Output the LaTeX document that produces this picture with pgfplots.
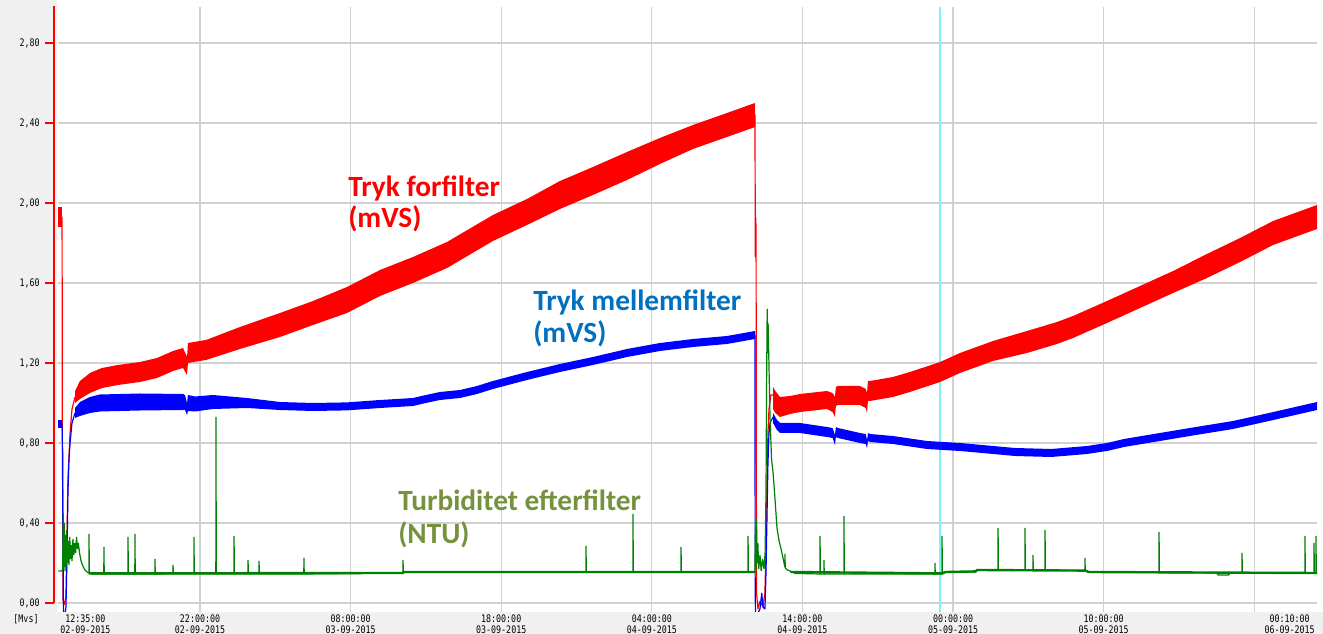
\documentclass[border=0pt]{standalone}
\usepackage{pgfplots}
\pgfplotsset{compat=1.18}
\usepackage{fontspec}
\setmainfont{DejaVu Sans}
\newfontfamily\tickfont[FakeStretch=0.8]{DejaVu Sans Mono}
\newfontfamily\annfont{Carlito}
\definecolor{gridgray}{RGB}{210,210,210}
\definecolor{bggray}{RGB}{240,240,240}
\definecolor{serred}{RGB}{255,0,0}
\definecolor{serblue}{RGB}{0,0,255}
\definecolor{sergreen}{RGB}{0,128,0}
\definecolor{anblue}{RGB}{0,112,192}
\definecolor{anolive}{RGB}{118,146,60}
\definecolor{cursorcyan}{RGB}{128,240,250}
\newcommand{\tf}{\tickfont\fontsize{7.8}{8}\selectfont}
\begin{document}
\begin{tikzpicture}
\useasboundingbox (0pt,0pt) rectangle (992.25pt,475.5pt);
\fill[bggray] (0pt,0pt) rectangle (992.25pt,475.5pt);
\fill[white] (43.1pt,16.5pt) rectangle (992.25pt,475.5pt);
\begin{axis}[
  at={(43.65pt,16.5pt)}, anchor=south west,
  scale only axis, width=944.1pt, height=453.75pt,
  xmin=12.583, xmax=96.167, ymin=-0.045, ymax=2.98,
  axis line style={draw=none}, tick style={draw=none},
  xtick={22,32,42,52,62,72,82,92},
  xticklabels={{22:00:00\\02-09-2015},{08:00:00\\03-09-2015},{18:00:00\\03-09-2015},{04:00:00\\04-09-2015},{14:00:00\\04-09-2015},{00:00:00\\05-09-2015},{10:00:00\\05-09-2015},{}},
  ytick={0,0.4,0.8,1.2,1.6,2.0,2.4,2.8},
  yticklabels={{0,00},{0,40},{0,80},{1,20},{1,60},{2,00},{2,40},{2,80}},
  grid=major, major grid style={gridgray, line width=0.9pt},
  xticklabel style={font=\tf, align=center, inner sep=0pt, anchor=north, yshift=-2pt},
  yticklabel style={font=\tf, inner sep=0pt, anchor=east, xshift=-13.65pt},
  clip=true,
]
% cursor
\addplot[cursorcyan, line width=1.6pt] coordinates {(71.14,-0.045)(71.14,2.98)};
% red: Tryk forfilter (band drawn as upper edge, then lower edge back)
\addplot[serred, line width=0.9pt, line join=bevel] coordinates {(12.84,1.93)(12.86,0.78)(12.88,0.75)(12.90,0.02)(12.97,-0.01)(13.10,0.03)(13.17,0.35)(13.23,0.62)(13.37,0.85)(13.50,0.97)(13.70,1.03)};
\addplot[serred, line width=0.9pt, line join=bevel] coordinates {(58.85,2.44)(58.87,1.73)(58.89,1.93)(58.92,1.88)(58.95,0.05)(59.05,-0.03)(59.18,0.01)(59.38,-0.02)(59.51,0.05)(59.58,0.28)(59.65,0.60)(59.71,0.85)(59.78,0.97)(59.90,1.04)(60.05,1.04)};
\addplot[fill=serred, draw=none] coordinates {(12.60,1.98)(12.84,1.98)(12.84,1.88)(12.60,1.88)};
\addplot[fill=serred, draw=none] coordinates {
 (13.70,1.06)(14.03,1.11)(14.69,1.15)(15.49,1.175)(16.55,1.19)(18.01,1.205)(19.14,1.225)(20.21,1.26)(20.87,1.275)(21.14,1.23)(21.20,1.30)(22.4,1.315)(24.65,1.38)(27.31,1.45)(29.50,1.51)(31.76,1.58)(33.95,1.665)(36.14,1.73)(38.40,1.805)(41.45,1.94)(43.71,2.02)(45.90,2.11)(48.09,2.18)(50.35,2.255)(52.54,2.325)(54.73,2.39)(56.99,2.45)(58.85,2.50)
 (58.85,2.38)(56.99,2.33)(54.73,2.27)(52.54,2.195)(50.35,2.115)(48.09,2.04)(45.90,1.97)(43.71,1.89)(41.45,1.81)(38.40,1.675)(36.14,1.60)(33.95,1.535)(31.76,1.45)(29.50,1.39)(27.31,1.33)(24.65,1.27)(22.4,1.215)(21.20,1.20)(21.14,1.14)(20.87,1.175)(20.21,1.16)(19.14,1.125)(18.01,1.105)(16.55,1.09)(15.49,1.075)(14.69,1.05)(14.03,1.02)(13.70,1.00)};
\addplot[fill=serred, draw=none] coordinates {
 (60.05,1.08)(60.20,1.06)(60.51,1.03)(61.18,1.035)(61.84,1.045)(63.63,1.06)(64.0,1.05)(64.16,1.03)(64.22,1.08)(64.36,1.085)(65.82,1.085)(66.2,1.07)(66.29,1.05)(66.35,1.11)(66.49,1.11)(68.01,1.13)(69.14,1.155)(71.14,1.205)(72.46,1.25)(74.65,1.31)(76.91,1.36)(78.90,1.405)(79.97,1.435)(82.22,1.51)(84.42,1.585)(86.61,1.66)(88.86,1.745)(91.06,1.825)(93.25,1.91)(96.17,1.99)
 (96.17,1.87)(93.25,1.79)(91.06,1.705)(88.86,1.625)(86.61,1.55)(84.42,1.475)(82.22,1.40)(79.97,1.325)(78.90,1.295)(76.91,1.25)(74.65,1.21)(72.46,1.15)(71.14,1.105)(69.14,1.055)(68.01,1.03)(66.49,1.01)(66.35,1.01)(66.29,0.95)(66.2,0.975)(65.82,0.99)(64.36,0.99)(64.22,0.985)(64.16,0.93)(64.0,0.955)(63.63,0.97)(61.84,0.955)(61.18,0.945)(60.51,0.93)(60.20,0.95)(60.05,0.97)};
% blue: Tryk mellemfilter
\addplot[serblue, line width=0.9pt, line join=bevel] coordinates {(12.84,0.895)(12.86,0.80)(12.90,0.30)(12.93,-0.05)(13.03,-0.06)(13.10,-0.02)(13.17,0.25)(13.23,0.55)(13.30,0.72)(13.37,0.80)(13.50,0.90)(13.70,0.95)};
\addplot[serblue, line width=0.9pt, line join=bevel] coordinates {(58.85,1.34)(58.86,0.10)(58.88,-0.05)(59.05,-0.05)(59.18,-0.03)(59.30,0.05)(59.38,-0.02)(59.51,-0.03)(59.58,0.15)(59.65,0.45)(59.71,0.70)(59.78,0.85)(59.85,0.90)(60.05,0.93)};
\addplot[fill=serblue, draw=none] coordinates {(12.60,0.915)(12.84,0.915)(12.84,0.875)(12.60,0.875)};
\addplot[fill=serblue, draw=none] coordinates {
 (13.70,0.975)(14.03,1.005)(14.69,1.03)(15.36,1.0425)(18.01,1.0475)(20.87,1.045)(21.00,1.04)(21.14,1.00)(21.20,1.04)(21.67,1.0325)(22.86,1.04)(25.12,1.025)(27.31,1.005)(29.50,1.0)(31.76,1.003)(33.95,1.015)(36.14,1.025)(37.0,1.04)(37.93,1.055)(39.26,1.065)(40.39,1.085)(41.45,1.11)(43.71,1.155)(45.90,1.195)(48.09,1.23)(50.35,1.27)(52.54,1.30)(54.73,1.32)(56.99,1.335)(58.85,1.36)
 (58.85,1.32)(56.99,1.295)(54.73,1.28)(52.54,1.26)(50.35,1.23)(48.09,1.19)(45.90,1.155)(43.71,1.115)(41.45,1.07)(40.39,1.045)(39.26,1.025)(37.93,1.015)(37.0,1.0)(36.14,0.985)(33.95,0.975)(31.76,0.963)(29.50,0.96)(27.31,0.965)(25.12,0.975)(22.86,0.97)(21.67,0.9575)(21.20,0.96)(21.14,0.94)(21.00,0.965)(20.87,0.965)(18.01,0.9625)(15.36,0.9575)(14.69,0.95)(14.03,0.935)(13.70,0.925)};
\addplot[fill=serblue, draw=none] coordinates {
 (60.05,0.95)(60.31,0.915)(60.51,0.90)(61.84,0.90)(63.63,0.88)(64.0,0.875)(64.16,0.84)(64.22,0.88)(64.36,0.875)(65.82,0.85)(66.2,0.845)(66.29,0.815)(66.35,0.85)(66.49,0.845)(68.01,0.835)(70.27,0.81)(72.46,0.80)(74.65,0.785)(76.12,0.775)(78.51,0.77)(80.90,0.785)(82.22,0.80)(83.35,0.82)(85.74,0.85)(88.13,0.88)(90.59,0.91)(92.98,0.95)(96.17,1.005)
 (96.17,0.965)(92.98,0.91)(90.59,0.87)(88.13,0.84)(85.74,0.81)(83.35,0.78)(82.22,0.76)(80.90,0.745)(78.51,0.73)(76.12,0.735)(74.65,0.745)(72.46,0.76)(70.27,0.77)(68.01,0.795)(66.49,0.805)(66.35,0.81)(66.29,0.775)(66.2,0.795)(65.82,0.80)(64.36,0.825)(64.22,0.83)(64.16,0.79)(64.0,0.825)(63.63,0.83)(61.84,0.85)(60.51,0.85)(60.31,0.865)(60.05,0.90)};
% green: Turbiditet efterfilter
\addplot[sergreen, line width=1.8pt] coordinates {(14.6,0.148)(35.48,0.15)(35.5,0.155)(58.84,0.155)};
\addplot[sergreen, line width=1.8pt] coordinates {(61.2,0.155)(71.3,0.148)(71.5,0.155)(73.5,0.158)(73.6,0.165)(80.8,0.162)(81,0.155)(96.17,0.15)};
\addplot[sergreen, line width=0.9pt, line join=bevel] coordinates {(12.60,0.16)(12.84,0.16)(12.88,0.17)(12.92,0.45)(12.95,0.18)(12.99,0.40)(13.03,0.16)(13.07,0.34)(13.11,0.18)(13.15,0.36)(13.20,0.20)(13.25,0.31)(13.30,0.19)(13.35,0.33)(13.40,0.22)(13.45,0.29)(13.50,0.21)(13.56,0.32)(13.62,0.24)(13.68,0.30)(13.74,0.25)(13.80,0.33)(13.86,0.27)(13.92,0.30)(14.00,0.25)(14.10,0.21)(14.22,0.185)(14.36,0.165)(14.50,0.155)(14.62,0.15)(14.63,0.345)(14.65,0.148)(14.90,0.145)(15.61,0.145)(15.62,0.28)(15.64,0.145)(17.21,0.145)(17.22,0.33)(17.24,0.145)(17.67,0.145)(17.68,0.345)(17.70,0.145)(19.00,0.145)(19.01,0.22)(19.03,0.145)(20.20,0.145)(20.21,0.19)(20.23,0.145)(21.59,0.145)(21.60,0.33)(21.62,0.145)(23.05,0.145)(23.06,0.93)(23.08,0.145)(24.25,0.145)(24.26,0.335)(24.28,0.145)(25.18,0.145)(25.19,0.215)(25.21,0.145)(25.91,0.145)(25.92,0.21)(25.94,0.145)(28.89,0.145)(28.90,0.225)(28.92,0.145)(35.47,0.15)(35.48,0.215)(35.50,0.155)(47.62,0.155)(47.63,0.285)(47.65,0.155)(50.74,0.155)(50.75,0.445)(50.77,0.155)(53.93,0.155)(53.94,0.28)(53.96,0.155)(58.38,0.155)(58.39,0.335)(58.41,0.155)(58.84,0.155)(58.88,0.38)(58.91,0.17)(58.95,0.42)(58.99,0.20)(59.04,0.30)(59.10,0.17)(59.18,0.24)(59.26,0.16)(59.35,0.22)(59.45,0.17)(59.52,0.25)(59.58,0.55)(59.62,1.10)(59.66,1.47)(59.69,1.25)(59.72,1.40)(59.78,1.18)(59.85,0.92)(59.95,0.72)(60.05,0.65)(60.15,0.55)(60.31,0.375)(60.45,0.31)(60.58,0.27)(60.78,0.20)(60.83,0.18)(60.84,0.245)(60.86,0.175)(61.00,0.165)(61.18,0.16)(61.5,0.148)(63.16,0.145)(63.17,0.335)(63.19,0.145)(63.42,0.145)(63.43,0.215)(63.45,0.145)(64.75,0.145)(64.76,0.435)(64.78,0.145)(70.79,0.145)(70.80,0.20)(70.82,0.145)(71.26,0.145)(71.27,0.335)(71.29,0.148)(71.5,0.155)(73.5,0.155)(73.6,0.165)(74.98,0.165)(74.99,0.375)(75.01,0.165)(76.77,0.165)(76.78,0.375)(76.80,0.165)(77.30,0.165)(77.31,0.24)(77.33,0.165)(78.10,0.165)(78.11,0.365)(78.13,0.165)(80.75,0.162)(80.76,0.225)(80.78,0.16)(81.0,0.155)(85.67,0.152)(85.68,0.355)(85.70,0.152)(89.5,0.15)(89.6,0.14)(90.3,0.14)(90.4,0.15)(91.18,0.15)(91.19,0.25)(91.21,0.15)(95.36,0.148)(95.37,0.335)(95.39,0.148)(95.96,0.148)(95.97,0.30)(95.99,0.148)(96.09,0.148)(96.10,0.335)(96.12,0.148)(96.17,0.148)};
% annotations
\node[anchor=base west, inner sep=0pt, font=\annfont\bfseries\fontsize{22}{26}\selectfont, text=serred] at (axis cs:31.83,2.03) {Tryk forfilter};
\node[anchor=base west, inner sep=0pt, font=\annfont\bfseries\fontsize{22}{26}\selectfont, text=serred] at (axis cs:31.83,1.875) {(mVS)};
\node[anchor=base west, inner sep=0pt, font=\annfont\bfseries\fontsize{22}{26}\selectfont, text=anblue] at (axis cs:44.11,1.46) {Tryk mellemfilter};
\node[anchor=base west, inner sep=0pt, font=\annfont\bfseries\fontsize{22}{26}\selectfont, text=anblue] at (axis cs:44.11,1.30) {(mVS)};
\node[anchor=base west, inner sep=0pt, font=\annfont\bfseries\fontsize{22}{26}\selectfont, text=anolive] at (axis cs:35.15,0.46) {Turbiditet efterfilter};
\node[anchor=base west, inner sep=0pt, font=\annfont\bfseries\fontsize{22}{26}\selectfont, text=anolive] at (axis cs:35.15,0.295) {(NTU)};
\end{axis}
% red value axis
\draw[serred, line width=0.8pt] (40.5pt,23.25pt) -- (40.5pt,471pt);
\foreach \k in {0,...,7} {\draw[serred, line width=0.8pt] (33.75pt,23.25pt+60pt*\k) -- (40.5pt,23.25pt+60pt*\k);}
% end labels and unit
\node[anchor=north west, inner sep=0pt, align=center, font=\tf] at (45pt,14.5pt) {12:35:00\\02-09-2015};
\node[anchor=north east, inner sep=0pt, align=center, font=\tf] at (986.25pt,14.5pt) {00:10:00\\06-09-2015};
\node[anchor=north, inner sep=0pt, font=\tf] at (19.5pt,14.5pt) {[Mvs]};
\end{tikzpicture}
\end{document}
